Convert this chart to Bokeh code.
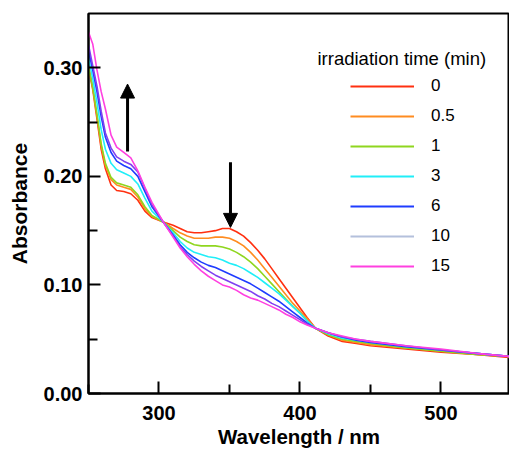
from bokeh.plotting import figure
from bokeh.models import (Range1d, FixedTicker, PrintfTickFormatter, Legend, LegendItem,
                          Label, Arrow, NormalHead)
from bokeh.embed import file_html
from bokeh.resources import INLINE

# ---------------- data ----------------
wavelength = [250, 253, 256, 259, 262, 266, 270, 275, 280, 285, 290, 295, 303, 310, 315, 320, 325,
              330, 335, 340, 345, 350, 355, 360, 365, 370, 375, 380, 385, 390, 395, 400, 405, 411,
              420, 430, 440, 450, 475, 500, 525, 550]

abs_0 = [.300, .280, .253, .225, .207, .192, .187, .186, .184, .178, .168, .162, .158, .155, .152, .149, .148,
         .148, .149, .150, .152, .152, .149, .145, .139, .132, .124, .115, .106, .097, .088, .079, .070, .060,
         .053, .048, .046, .044, .041, .038, .036, .033]
abs_05 = [.303, .282, .256, .228, .210, .197, .192, .190, .188, .181, .170, .163, .158, .152, .148, .145, .143,
          .143, .143, .144, .144, .143, .140, .136, .130, .123, .115, .107, .099, .091, .083, .076, .069, .060,
          .054, .049, .047, .045, .042, .039, .036, .034]
abs_1 = [.300, .282, .257, .230, .212, .199, .194, .192, .190, .183, .172, .164, .158, .150, .144, .140, .137,
         .136, .136, .136, .135, .133, .130, .126, .121, .115, .108, .101, .094, .087, .080, .074, .067, .060,
         .054, .050, .048, .046, .042, .039, .036, .034]
abs_3 = [.309, .290, .268, .243, .225, .212, .206, .203, .200, .193, .180, .168, .158, .148, .140, .134, .130,
         .128, .126, .125, .123, .120, .118, .115, .111, .107, .102, .097, .092, .086, .080, .074, .067, .060,
         .055, .051, .049, .047, .043, .040, .037, .034]
abs_6 = [.316, .298, .278, .255, .236, .222, .214, .210, .207, .200, .186, .172, .158, .146, .137, .130, .125,
         .121, .118, .116, .113, .110, .107, .104, .101, .097, .093, .089, .085, .080, .075, .070, .065, .060,
         .056, .052, .049, .047, .043, .040, .037, .034]
abs_10 = [.321, .302, .283, .260, .240, .226, .218, .214, .211, .204, .189, .174, .158, .145, .135, .128, .122,
          .117, .113, .109, .106, .103, .100, .097, .094, .090, .087, .083, .080, .076, .072, .068, .064, .060,
          .056, .052, .050, .048, .044, .040, .037, .034]
abs_15 = [.333, .322, .298, .278, .262, .238, .227, .222, .217, .205, .190, .176, .158, .144, .134, .126, .119,
          .113, .108, .104, .100, .098, .095, .091, .088, .086, .083, .080, .077, .073, .070, .066, .063, .060,
          .056, .053, .050, .048, .044, .041, .037, .034]

series = [abs_0, abs_05, abs_1, abs_3, abs_6, abs_10, abs_15]
time_labels = ["0", "0.5", "1", "3", "6", "10", "15"]
line_colors = ["#ff3010", "#ff8c20", "#8fd61f", "#20eef8", "#1f3cff", "#8040f0", "#ff40e0"]
legend_colors = ["#ff3010", "#ff8c20", "#8fd61f", "#20eef8", "#1f3cff", "#b4c0dc", "#ff40e0"]

x_ticks = [300, 400, 500]
x_minor = [250, 350, 450, 550]
y_ticks = [0.0, 0.1, 0.2, 0.3]
y_minor = [0.05, 0.15, 0.25]

# arrows: (x, y_start, y_end)
arrow_up = (277.7, 0.223, 0.285)
arrow_down = (350.7, 0.213, 0.153)

# ---------------- figure ----------------
p = figure(width=509, height=450, output_backend="svg", toolbar_location=None,
           x_range=Range1d(250, 548.6), y_range=Range1d(0, 0.35),
           min_border_left=88, min_border_right=0, min_border_top=13, min_border_bottom=54)
p.background_fill_color = "white"
p.border_fill_color = "white"
p.outline_line_color = "black"
p.outline_line_width = 2
p.grid.visible = False

for ys, col in zip(series, line_colors):
    p.line(wavelength, ys, line_color=col, line_width=1.6, line_join="round")

# legend with its own colors (placeholder renderers, nothing drawn in the plot area)
nan = float("nan")
items = []
for lab, col in zip(time_labels, legend_colors):
    r = p.line(x=[nan, nan], y=[nan, nan], line_color=col, line_width=2)
    items.append(LegendItem(label=lab, renderers=[r]))
legend = Legend(items=items, location=(262, 117), padding=0, margin=0, spacing=10,
                glyph_width=64, glyph_height=20, label_height=20, label_standoff=17,
                label_text_font="Liberation Sans",
                label_text_font_size="17px", label_text_color="black",
                border_line_color=None, background_fill_alpha=0)
p.add_layout(legend, "center")

p.add_layout(Label(x=229, y=335, x_units="screen", y_units="screen",
                   text="irradiation time (min)", text_font="Liberation Sans",
                   text_font_size="18.5px", text_baseline="middle", text_color="black"))

for (ax, y0, y1) in [arrow_up, arrow_down]:
    p.add_layout(Arrow(end=NormalHead(size=14, fill_color="black", line_color="black"),
                       x_start=ax, y_start=y0, x_end=ax, y_end=y1,
                       line_color="black", line_width=3))

# axes
for ax in [p.xaxis[0], p.yaxis[0]]:
    ax.axis_line_width = 2
    ax.axis_line_color = "black"
    ax.major_tick_line_width = 2
    ax.minor_tick_line_width = 2
    ax.major_tick_in = 12
    ax.major_tick_out = 0
    ax.minor_tick_in = 9
    ax.minor_tick_out = 0
    ax.major_label_text_font = "Liberation Sans"
    ax.major_label_text_font_style = "bold"
    ax.major_label_text_font_size = "20px"
    ax.major_label_text_color = "black"
    ax.axis_label_text_font = "Liberation Sans"
    ax.axis_label_text_font_style = "bold"
    ax.axis_label_text_color = "black"

p.xaxis.axis_label_text_font_size = "20.5px"
p.yaxis.axis_label_text_font_size = "21px"
p.xaxis.ticker = FixedTicker(ticks=x_ticks, minor_ticks=x_minor)
p.yaxis.ticker = FixedTicker(ticks=y_ticks, minor_ticks=y_minor)
p.yaxis.formatter = PrintfTickFormatter(format="%.2f")
p.xaxis.axis_label = "Wavelength / nm"
p.yaxis.axis_label = "Absorbance"
p.xaxis.major_label_standoff = 12
p.yaxis.major_label_standoff = 6
p.xaxis.axis_label_standoff = 2
p.yaxis.axis_label_standoff = 10

open("out.html", "w").write(file_html(p, INLINE))
